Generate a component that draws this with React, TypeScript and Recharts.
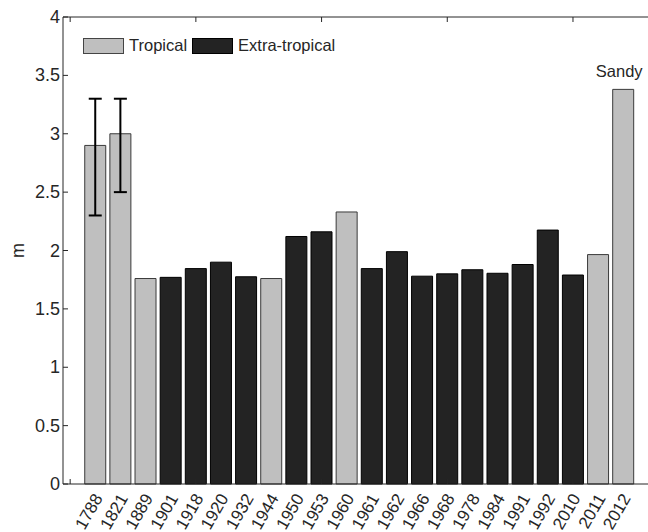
import React from 'react';
import { BarChart, Bar, XAxis, YAxis, Cell, ErrorBar, Legend, LabelList, ReferenceLine } from 'recharts';

const years = ['1788', '1821', '1889', '1901', '1918', '1920', '1932', '1944', '1950', '1953', '1960', '1961', '1962', '1966', '1968', '1978', '1984', '1991', '1992', '2010', '2011', '2012'];
const heights = [2.9, 3.0, 1.76, 1.77, 1.845, 1.9, 1.775, 1.76, 2.12, 2.16, 2.33, 1.845, 1.99, 1.78, 1.8, 1.835, 1.805, 1.88, 2.175, 1.79, 1.965, 3.38];
const stormTypes = ['Tropical', 'Tropical', 'Tropical', 'Extra-tropical', 'Extra-tropical', 'Extra-tropical', 'Extra-tropical', 'Tropical', 'Extra-tropical', 'Extra-tropical', 'Tropical', 'Extra-tropical', 'Extra-tropical', 'Extra-tropical', 'Extra-tropical', 'Extra-tropical', 'Extra-tropical', 'Extra-tropical', 'Extra-tropical', 'Extra-tropical', 'Tropical', 'Tropical'];
const errLow = [0.6, 0.5];
const errHigh = [0.4, 0.3];
const notes = ['', '', '', '', '', '', '', '', '', '', '', '', '', '', '', '', '', '', '', '', '', 'Sandy'];
const yTicks = [0, 0.5, 1, 1.5, 2, 2.5, 3, 3.5, 4];
const frameTicks = [0, 5, 10, 15, 20];
const legendItems = ['Tropical', 'Extra-tropical'];

const FILL: Record<string, string> = { 'Tropical': '#bfbfbf', 'Extra-tropical': '#232323' };
const EDGE: Record<string, string> = { 'Tropical': '#3a3a3a', 'Extra-tropical': '#000000' };
const INK = '#262626';
const FONT = '"Liberation Sans", Arial, Helvetica, sans-serif';
const X_DOMAIN: [number, number] = [-0.285, 23.66];
const PLOT_TOP = 17;

const data = years.map((year, i) => ({
  pos: i + 1,
  year,
  height: heights[i],
  type: stormTypes[i],
  err: errLow[i] != null ? [errLow[i], errHigh[i]] : null,
  note: notes[i],
}));

const YTick = (props: any) => {
  const { x, y, payload } = props;
  return (
    <g>
      <line x1={x + 3} x2={x + 8} y1={y} y2={y} stroke={INK} strokeWidth={1} />
      <text x={x} y={y} dy={6} textAnchor="end" fontSize={18} fontFamily={FONT} fill={INK}>
        {String(payload.value)}
      </text>
    </g>
  );
};

// bottom labels, plus the inward frame ticks on both bottom and top edges
const BottomTick = (props: any) => {
  const { x, y, payload } = props;
  const v = payload.value;
  const label = v >= 1 ? years[v - 1] : null;
  const ax = x + 8;
  const ay = y + 14;
  return (
    <g>
      {frameTicks.includes(v) && (
        <>
          <line x1={x} x2={x} y1={y} y2={y - 5} stroke={INK} strokeWidth={1} />
          <line x1={x} x2={x} y1={PLOT_TOP} y2={PLOT_TOP + 5} stroke={INK} strokeWidth={1} />
        </>
      )}
      {label && (
        <text x={ax} y={ay} textAnchor="end" fontSize={17} fontFamily={FONT} fill={INK} transform={`rotate(-60, ${ax}, ${ay})`}>
          {label}
        </text>
      )}
    </g>
  );
};

const renderYLabel = (props: any) => {
  const { viewBox } = props;
  const cy = viewBox.y + viewBox.height / 2;
  return (
    <text x={18} y={cy} textAnchor="middle" dominantBaseline="central" fontSize={18} fontFamily={FONT} fill={INK} transform={`rotate(-90, 18, ${cy})`}>
      m
    </text>
  );
};

const renderLegend = () => (
  <div style={{ display: 'flex', alignItems: 'center', fontFamily: FONT, fontSize: 16.5, color: INK, whiteSpace: 'nowrap' }}>
    {legendItems.map((name, i) => (
      <div key={name} style={{ display: 'flex', alignItems: 'center', marginRight: i === 0 ? 5 : 0 }}>
        <span
          style={{
            display: 'inline-block',
            boxSizing: 'border-box',
            width: 41,
            height: 16,
            background: FILL[name],
            border: `1px solid ${i === 0 ? '#444' : '#000'}`,
            marginRight: 5,
          }}
        />
        <span>{name}</span>
      </div>
    ))}
  </div>
);

const renderNote = (props: any) => {
  const { x, y, width, value } = props;
  if (!value) return null;
  return (
    <text x={x + width / 2 - 4} y={y - 12} textAnchor="middle" fontSize={16.5} fontFamily={FONT} fill={INK}>
      {value}
    </text>
  );
};

const App: React.FC = () => {
  return (
    <div style={{ position: 'fixed', left: 0, top: 0, width: 648, height: 532, overflow: 'hidden', background: '#fff' }}>
      <BarChart width={665} height={532} data={data} margin={{ top: PLOT_TOP, right: 0, bottom: 0, left: 0 }}>
        <XAxis
          dataKey="pos"
          type="number"
          domain={X_DOMAIN}
          allowDataOverflow
          ticks={[0, ...years.map((_, i) => i + 1)]}
          interval={0}
          height={48}
          tickSize={0}
          tickMargin={0}
          tick={<BottomTick />}
          axisLine={{ stroke: INK, strokeWidth: 1 }}
          tickLine={false}
        />
        <YAxis
          type="number"
          domain={[0, 4]}
          ticks={yTicks}
          interval={0}
          width={63}
          tickSize={0}
          tickMargin={3}
          tick={<YTick />}
          tickLine={false}
          axisLine={{ stroke: INK, strokeWidth: 1 }}
          label={renderYLabel}
        />
        <ReferenceLine y={4} stroke={INK} strokeWidth={1} ifOverflow="visible" />
        <Legend
          layout="horizontal"
          verticalAlign="middle"
          align="center"
          content={renderLegend}
          wrapperStyle={{ left: 83, top: 36, width: 'auto', height: 'auto' }}
        />
        <Bar dataKey="height" barSize={21} isAnimationActive={false}>
          {data.map((d) => (
            <Cell key={d.year} fill={FILL[d.type]} stroke={EDGE[d.type]} strokeWidth={1} />
          ))}
          <ErrorBar dataKey="err" width={6.5} stroke="#000" strokeWidth={2} direction="y" />
          <LabelList dataKey="note" content={renderNote} />
        </Bar>
      </BarChart>
    </div>
  );
};

export default App;
